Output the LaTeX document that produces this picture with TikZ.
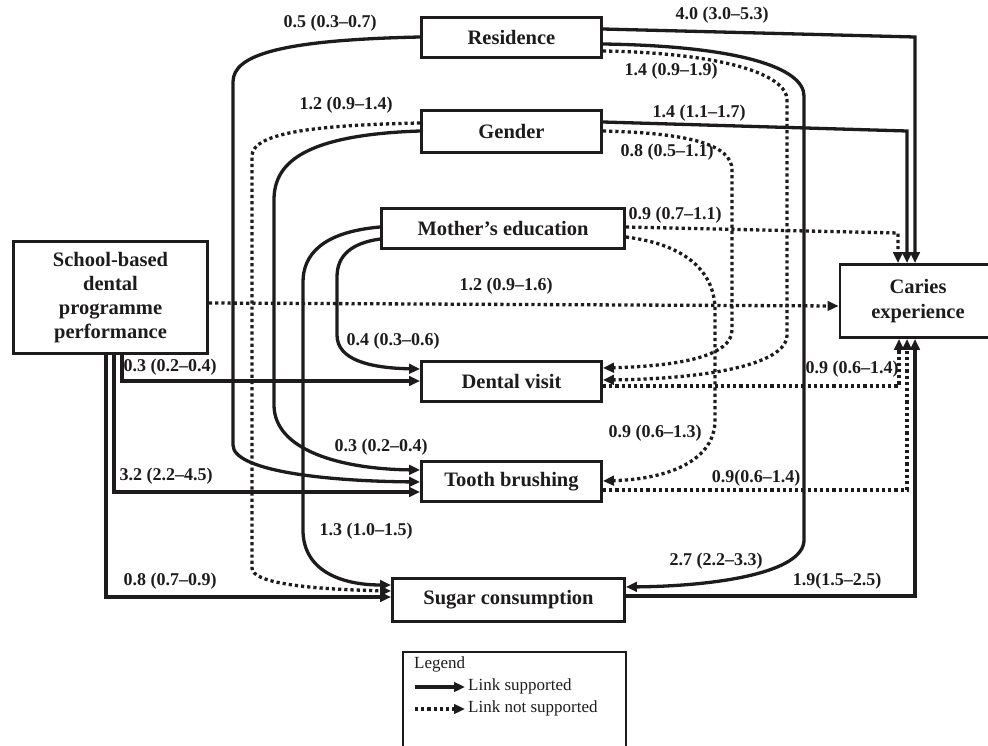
\documentclass[tikz,border=0pt]{standalone}
\usepackage{fontspec}
\setmainfont{Liberation Serif}
\usetikzlibrary{arrows.meta,calc}
\definecolor{ink}{RGB}{30,27,28}
\begin{document}
\begin{tikzpicture}[x=1pt,y=-1pt,
  box/.style={draw=ink, line width=2.8pt, text=ink, font=\fontsize{20.5}{24}\selectfont\bfseries, align=center, inner sep=0pt},
  lab/.style={text=ink, font=\fontsize{18}{20}\selectfont\bfseries, inner sep=0pt},
  link/.style={draw=ink, line width=3.3pt, -{Triangle[length=11pt,width=9.5pt]}},
  nolink/.style={link, dash pattern=on 3.2pt off 3pt},
  legtxt/.style={text=ink, font=\fontsize{17}{20}\selectfont, inner sep=0pt, anchor=west},
]
\useasboundingbox (0,0) rectangle (988,746);

% boxes
\node[box, minimum width=180pt, minimum height=40pt] (res) at (511.5,37.5) {Residence};
\node[box, minimum width=180pt, minimum height=42pt] (gen) at (511.5,131.5) {Gender};
\node[box, minimum width=243pt, minimum height=40pt] (mot) at (503,228.5) {Mother’s education};
\node[box, minimum width=194pt, minimum height=112pt] (sch) at (110.5,297.5) {School-based\\dental\\programme\\performance};
\node[box, minimum width=156pt, minimum height=73pt, font=\fontsize{20.5}{25}\selectfont\bfseries] (car) at (918,301) {Caries\\experience};
\node[box, minimum width=180pt, minimum height=40pt] (den) at (511.5,381.5) {Dental visit};
\node[box, minimum width=180pt, minimum height=40pt] (tb) at (511.5,481.5) {Tooth brushing};
\node[box, minimum width=232pt, minimum height=43pt] (sug) at (508.5,600) {Sugar consumption};

% left side connectors
\draw[link] (res.west |- 0,37) .. controls (280,40) and (233,55) .. (233,82) -- (233,445) .. controls (233,470) and (320,481) .. (tb.west |- 0,482);
\draw[nolink] (gen.west |- 0,123) .. controls (320,125) and (252,132) .. (252,156) -- (252,568) .. controls (252,582) and (300,589) .. (sug.west |- 0,591);
\draw[link] (gen.west |- 0,131) .. controls (300,135) and (274,165) .. (274,200) -- (274,405) .. controls (274,450) and (340,469) .. (tb.west |- 0,470);
\draw[link] (mot.west |- 0,227) .. controls (322,232) and (303,255) .. (303,282) -- (303,530) .. controls (303,570) and (340,585) .. (sug.west |- 0,585);
\draw[link] (mot.west |- 0,239) .. controls (352,243) and (337,255) .. (337,277) -- (337,335) .. controls (337,360) and (370,368) .. (den.west |- 0,369);
\draw[link] (sch.south -| 122,0) -- (122,381) -- (den.west |- 0,381);
\draw[link] (sch.south -| 114,0) -- (114,492) -- (tb.west |- 0,492);
\draw[link] (sch.south -| 106,0) -- (106,597) -- (sug.west |- 0,597);

% right side connectors
\draw[link] (res.east |- 0,29) -- (915,37) -- (car.north -| 915,0);
\draw[link] (res.east |- 0,44) .. controls (740,46) and (804,68) .. (804,96) -- (804,540) .. controls (804,572) and (720,586) .. (sug.east |- 0,587);
\draw[nolink] (res.east |- 0,51) .. controls (722,53) and (787,74) .. (787,100) -- (787,335) .. controls (787,366) and (700,379) .. (den.east |- 0,380);
\draw[link] (gen.east |- 0,122) -- (907,131) -- (car.north -| 907,0);
\draw[nolink] (gen.east |- 0,131) .. controls (690,133) and (732,145) .. (732,170) -- (732,330) .. controls (732,356) and (680,366) .. (den.east |- 0,368);
\draw[nolink] (mot.east |- 0,227) -- (898,233) -- (car.north -| 898,0);
\draw[nolink] (mot.east |- 0,237) .. controls (690,245) and (715,275) .. (715,310) -- (715,420) .. controls (715,460) and (670,479) .. (tb.east |- 0,481);
\draw[nolink] (sch.east |- 0,303) -- (car.west |- 0,306);
\draw[nolink] (den.east |- 0,386) -- (899,386) -- (car.south -| 899,0);
\draw[nolink] (tb.east |- 0,490) -- (907,490) -- (car.south -| 907,0);
\draw[link] (sug.east |- 0,596) -- (915,596) -- (car.south -| 915,0);

% labels
\node[lab] (l1) at (330,23) {0.5 (0.3–0.7)};
\node[lab] (l2) at (346,105) {1.2 (0.9–1.4)};
\node[lab] (l3) at (722,15) {4.0 (3.0–5.3)};
\node[lab] (l4) at (671,71) {1.4 (0.9–1.9)};
\node[lab] (l5) at (699,113) {1.4 (1.1–1.7)};
\node[lab] (l6) at (667,152) {0.8 (0.5–1.1)};
\node[lab] (l7) at (675,215) {0.9 (0.7–1.1)};
\node[lab] (l8) at (506,286) {1.2 (0.9–1.6)};
\node[lab] (l9) at (393,341) {0.4 (0.3–0.6)};
\node[lab] (l10) at (170,367) {0.3 (0.2–0.4)};
\node[lab] (l11) at (852,369) {0.9 (0.6–1.4)};
\node[lab] (l12) at (655,433) {0.9 (0.6–1.3)};
\node[lab] (l13) at (381,447) {0.3 (0.2–0.4)};
\node[lab] (l14) at (166,476) {3.2 (2.2–4.5)};
\node[lab] (l15) at (756,478) {0.9(0.6–1.4)};
\node[lab] (l16) at (366,531) {1.3 (1.0–1.5)};
\node[lab] (l17) at (170,581) {0.8 (0.7–0.9)};
\node[lab] (l18) at (716,561) {2.7 (2.2–3.3)};
\node[lab] (l19) at (837,581) {1.9(1.5–2.5)};

% legend
\draw[ink, line width=1.4pt] (403,770) -- (403,652) -- (626,652) -- (626,770);
\node[legtxt] (lg) at (414,664) {Legend};
\coordinate (la1) at (415,687);
\coordinate (la2) at (465,687);
\coordinate (lb1) at (415,709);
\coordinate (lb2) at (465,709);
\draw[link] (la1) -- (la2);
\draw[nolink] (lb1) -- (lb2);
\node[legtxt] (ls) at (468,686) {Link supported};
\node[legtxt] (ln) at (468,708) {Link not supported};
\end{tikzpicture}
\end{document}
